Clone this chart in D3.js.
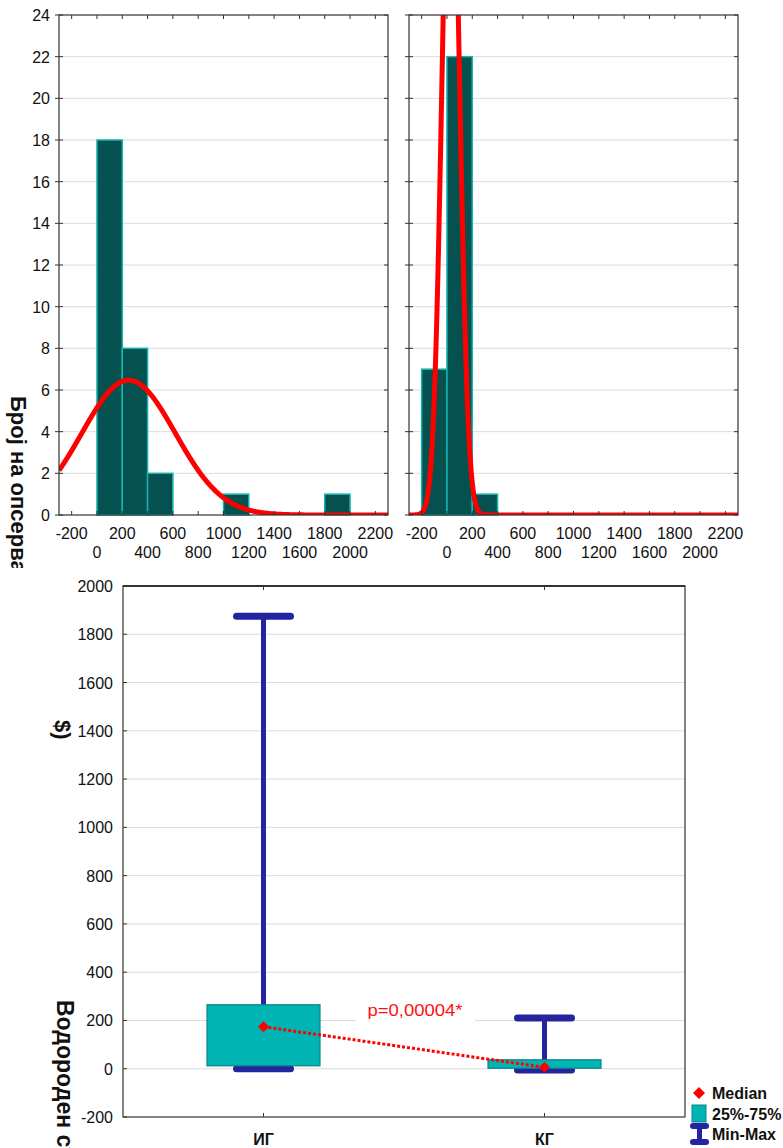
<!DOCTYPE html>
<html>
<head>
<meta charset="utf-8">
<script src="https://cdn.jsdelivr.net/npm/d3@7"></script>
<style>
  html, body { margin: 0; padding: 0; background: #fff; }
  svg { display: block; }
  text { font-family: "Liberation Sans", Arial, sans-serif; }
</style>
</head>
<body>
<svg id="chart" width="783" height="1148"></svg>
<script>
// Histogram bins (width 200) and frequencies per group
const binStarts = [-200, 0, 200, 400, 600, 800, 1000, 1200, 1400, 1600, 1800, 2000, 2200];
const igCounts  = [0, 18, 8, 2, 0, 0, 1, 0, 0, 0, 1, 0, 0];
const kgCounts  = [7, 22, 1, 0, 0, 0, 0, 0, 0, 0, 0, 0, 0];
const binWidth = 200;

// Fitted normal curves (mean, standard deviation) per group
const igFit = { mean: 250, sd: 370 };
const kgFit = { mean: 30, sd: 68 };

// Axis ticks
const histXTicks = [-200, 0, 200, 400, 600, 800, 1000, 1200, 1400, 1600, 1800, 2000, 2200];
const histYTicks = [0, 2, 4, 6, 8, 10, 12, 14, 16, 18, 20, 22, 24];
const boxYTicks = [-200, 0, 200, 400, 600, 800, 1000, 1200, 1400, 1600, 1800, 2000];

// Box plot summary per group
const groups  = ["ИГ", "КГ"];
const mins    = [0, -5];
const q1s     = [12, 2];
const medians = [174, 6];
const q3s     = [265, 37];
const maxs    = [1875, 210];
const pLabel  = "p=0,00004*";

const svg = d3.select("#chart");
const BAR_FILL = "#04514f", BAR_STROKE = "#14b4b0";
const FRAME = "#333";
const TICK_FONT = 16;

// square diamond marker path of half-diagonal r
const diamondPath = r => `M0,${-r}L${r},0L0,${r}L${-r},0Z`;

// ---------- histograms ----------
function histogram(x0, counts, fit, showYLabels, id) {
  const w = 329, top = 15, bottom = 515;
  const x = d3.scaleLinear().domain([-300, 2300]).range([x0, x0 + w]);
  const y = d3.scaleLinear().domain([0, 24]).range([bottom, top]);
  const g = svg.append("g");

  g.append("clipPath").attr("id", id).append("rect")
    .attr("x", x0).attr("y", top).attr("width", w).attr("height", bottom - top);

  // grid
  g.selectAll("line.grid").data(histYTicks.filter(t => t > 0 && t < 24)).join("line")
    .attr("x1", x0).attr("x2", x0 + w)
    .attr("y1", d => y(d)).attr("y2", d => y(d))
    .attr("stroke", "#dcdcdc").attr("stroke-width", 1);

  // bars
  const bins = binStarts.map((s, i) => ({ s, c: counts[i] })).filter(d => d.c > 0);
  g.selectAll("rect.bar").data(bins).join("rect")
    .attr("x", d => x(d.s)).attr("width", d => x(d.s + binWidth) - x(d.s))
    .attr("y", d => y(d.c)).attr("height", d => y(0) - y(d.c))
    .attr("fill", BAR_FILL).attr("stroke", BAR_STROKE).attr("stroke-width", 1.5);

  // fitted normal curve scaled to counts
  const n = d3.sum(counts);
  const pdf = v => n * binWidth * Math.exp(-0.5 * ((v - fit.mean) / fit.sd) ** 2) / (fit.sd * Math.sqrt(2 * Math.PI));
  const xs = d3.range(-300, 2300.1, 2);
  g.append("g").attr("clip-path", `url(#${id})`)
    .append("path").datum(xs)
    .attr("d", d3.line().x(v => x(v)).y(v => y(pdf(v))))
    .attr("fill", "none").attr("stroke", "#ff0000").attr("stroke-width", 5)
    .attr("stroke-linejoin", "round");

  // frame
  g.append("rect").attr("x", x0).attr("y", top).attr("width", w).attr("height", bottom - top)
    .attr("fill", "none").attr("stroke", FRAME).attr("stroke-width", 1.2);

  // x ticks (inside, top and bottom)
  g.selectAll("line.xtb").data(histXTicks).join("line")
    .attr("x1", d => x(d)).attr("x2", d => x(d))
    .attr("y1", bottom).attr("y2", bottom - 4).attr("stroke", FRAME);
  g.selectAll("line.xtt").data(histXTicks).join("line")
    .attr("x1", d => x(d)).attr("x2", d => x(d))
    .attr("y1", top).attr("y2", top + 4).attr("stroke", FRAME);

  // y ticks: crossing on the left, inside on the right
  g.selectAll("line.ytl").data(histYTicks).join("line")
    .attr("x1", x0 - 4).attr("x2", x0 + 4)
    .attr("y1", d => y(d)).attr("y2", d => y(d)).attr("stroke", FRAME);
  g.selectAll("line.ytr").data(histYTicks).join("line")
    .attr("x1", x0 + w - 4).attr("x2", x0 + w)
    .attr("y1", d => y(d)).attr("y2", d => y(d)).attr("stroke", FRAME);

  // x tick labels on two alternating rows
  g.selectAll("text.xl").data(histXTicks).join("text")
    .attr("x", d => x(d))
    .attr("y", (d, i) => i % 2 === 0 ? 539 : 558)
    .attr("text-anchor", "middle").attr("font-size", TICK_FONT).attr("fill", "#111")
    .text(d => d);

  if (showYLabels) {
    g.selectAll("text.yl").data(histYTicks).join("text")
      .attr("x", x0 - 9).attr("y", d => y(d) + 6)
      .attr("text-anchor", "end").attr("font-size", TICK_FONT).attr("fill", "#111")
      .text(d => d);
  }
}

histogram(59, igCounts, igFit, true, "clipIG");
histogram(409, kgCounts, kgFit, false, "clipKG");

// y title of histograms (cut by the lower panel)
svg.append("clipPath").attr("id", "clipTopTitle").append("rect")
  .attr("x", 0).attr("y", 0).attr("width", 50).attr("height", 568);
svg.append("g").attr("clip-path", "url(#clipTopTitle)")
  .append("text")
  .attr("transform", "translate(11,396) rotate(90)")
  .attr("font-size", 22).attr("font-weight", "bold").attr("fill", "#111")
  .text("Број на опсервации");

// ---------- box plot ----------
const bx0 = 123, bx1 = 685;
const by = d3.scaleLinear().domain([-200, 2000]).range([1117, 586]);
const bxs = d3.scalePoint().domain(groups).range([bx0, bx1]).padding(0.5);
const bp = svg.append("g");

bp.selectAll("line.bgrid").data(boxYTicks.filter(t => t > -200 && t < 2000)).join("line")
  .attr("x1", bx0).attr("x2", bx1)
  .attr("y1", d => by(d)).attr("y2", d => by(d))
  .attr("stroke", "#dcdcdc").attr("stroke-width", 1);

// p-value label with white backing
const pmx = (bxs(groups[0]) + bxs(groups[1])) / 2 + 11;
bp.append("rect").attr("x", pmx - 59).attr("y", by(210) - 18).attr("width", 119).attr("height", 26)
  .attr("fill", "#fff");

// whiskers
const stats = groups.map((g, i) => ({ g, min: mins[i], q1: q1s[i], med: medians[i], q3: q3s[i], max: maxs[i] }));
const WHISK = "#2424a0";
stats.forEach(s => {
  const cx = bxs(s.g);
  bp.append("line").attr("x1", cx).attr("x2", cx).attr("y1", by(s.min)).attr("y2", by(s.max))
    .attr("stroke", WHISK).attr("stroke-width", 5);
  [s.min, s.max].forEach(v => {
    bp.append("line").attr("x1", cx - 27).attr("x2", cx + 27).attr("y1", by(v)).attr("y2", by(v))
      .attr("stroke", WHISK).attr("stroke-width", 7).attr("stroke-linecap", "round");
  });
});

// boxes
const boxW = 113;
bp.selectAll("rect.box").data(stats).join("rect")
  .attr("x", d => bxs(d.g) - boxW / 2).attr("width", boxW)
  .attr("y", d => by(d.q3)).attr("height", d => by(d.q1) - by(d.q3))
  .attr("fill", "#00b4b4").attr("stroke", "#0a8585").attr("stroke-width", 1.2);

// median connector
bp.append("path").datum(stats)
  .attr("d", d3.line().x(d => bxs(d.g)).y(d => by(d.med)))
  .attr("fill", "none").attr("stroke", "#ff0000").attr("stroke-width", 3)
  .attr("stroke-dasharray", "3,2");

bp.selectAll("path.med").data(stats).join("path")
  .attr("transform", d => `translate(${bxs(d.g)},${by(d.med)})`)
  .attr("d", diamondPath(5.5)).attr("fill", "#ff0000");

bp.append("text").attr("x", pmx).attr("y", 1016)
  .attr("text-anchor", "middle")
  .attr("font-family", "'Liberation Mono', 'Courier New', monospace")
  .attr("font-size", 17).attr("fill", "#ff1010")
  .attr("textLength", 95).attr("lengthAdjust", "spacingAndGlyphs")
  .text(pLabel);

// frame
bp.append("rect").attr("x", bx0).attr("y", by(2000)).attr("width", bx1 - bx0).attr("height", by(-200) - by(2000))
  .attr("fill", "none").attr("stroke", FRAME).attr("stroke-width", 1.2);
bp.append("line").attr("x1", bx0).attr("x2", bx1).attr("y1", by(2000)).attr("y2", by(2000))
  .attr("stroke", FRAME).attr("stroke-width", 2.2);

// y ticks and labels
bp.selectAll("line.byt").data(boxYTicks).join("line")
  .attr("x1", bx0).attr("x2", bx0 + 4)
  .attr("y1", d => by(d)).attr("y2", d => by(d)).attr("stroke", FRAME);
bp.selectAll("text.byl").data(boxYTicks).join("text")
  .attr("x", bx0 - 10).attr("y", d => by(d) + 6)
  .attr("text-anchor", "end").attr("font-size", TICK_FONT).attr("fill", "#111")
  .text(d => d);

// category ticks and labels
groups.forEach(g => {
  bp.append("line").attr("x1", bxs(g)).attr("x2", bxs(g)).attr("y1", by(2000)).attr("y2", by(2000) + 4).attr("stroke", FRAME);
  bp.append("line").attr("x1", bxs(g)).attr("x2", bxs(g)).attr("y1", by(-200)).attr("y2", by(-200) - 4).attr("stroke", FRAME);
});
bp.selectAll("text.cat").data(groups).join("text")
  .attr("x", d => bxs(d)).attr("y", 1145)
  .attr("text-anchor", "middle").attr("font-size", 16).attr("font-weight", "bold").attr("fill", "#111")
  .text(d => d);

// y title pieces
svg.append("text")
  .attr("transform", "translate(55,720) rotate(90)")
  .attr("font-size", 22).attr("font-weight", "bold").attr("fill", "#111")
  .text("$)");
svg.append("text")
  .attr("transform", "translate(57,1000) rotate(90)")
  .attr("font-size", 23).attr("font-weight", "bold").attr("fill", "#111")
  .text("Водороден сулфид");

// legend
const lg = svg.append("g");
lg.append("path").attr("transform", "translate(699,1093)")
  .attr("d", diamondPath(6)).attr("fill", "#ff0000");
lg.append("rect").attr("x", 692).attr("y", 1105).attr("width", 14).attr("height", 17)
  .attr("fill", "#00b4b4").attr("stroke", "#0a8585").attr("stroke-width", 1);
lg.append("line").attr("x1", 699.5).attr("x2", 699.5).attr("y1", 1126).attr("y2", 1142)
  .attr("stroke", WHISK).attr("stroke-width", 5);
[1126, 1142].forEach(yy => lg.append("line").attr("x1", 693).attr("x2", 706).attr("y1", yy).attr("y2", yy)
  .attr("stroke", WHISK).attr("stroke-width", 6).attr("stroke-linecap", "round"));
const legendText = ["Median", "25%-75%", "Min-Max"];
lg.selectAll("text").data(legendText).join("text")
  .attr("x", 712).attr("y", (d, i) => 1099 + i * 20.5)
  .attr("font-size", 16).attr("font-weight", "bold").attr("fill", "#111")
  .text(d => d);
</script>
</body>
</html>
